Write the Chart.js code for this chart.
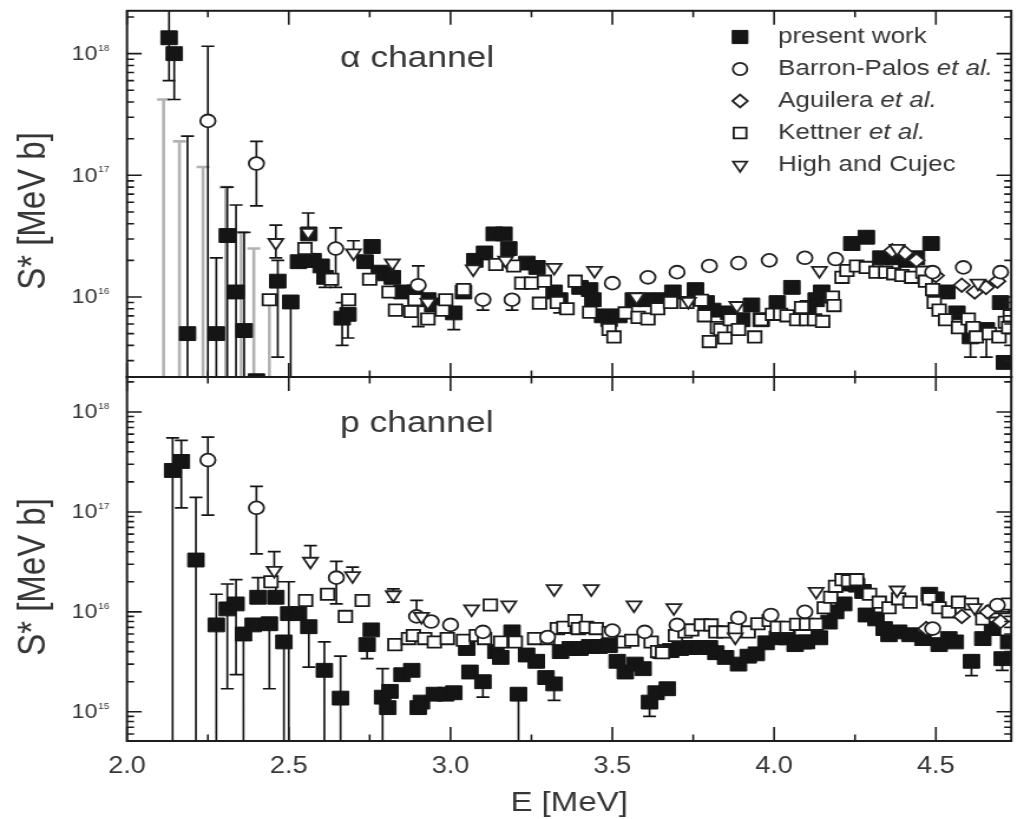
<!DOCTYPE html>
<html>
<head>
<meta charset="utf-8">
<title>S* factor – α and p channels</title>
<script src="https://cdn.jsdelivr.net/npm/chart.js@4.4.1/dist/chart.umd.min.js"></script>
<style>
  html, body { margin: 0; padding: 0; background: #fff; }
  #figure { position: relative; width: 1024px; height: 819px; overflow: hidden; background: #fff; }
  /* the figure is laid out on an 868px canvas and widened to the page width */
  #figure canvas { position: absolute; left: 0; top: 0; transform: scaleX(1.179724); transform-origin: 0 0; }
</style>
</head>
<body>
<div id="figure">
  <canvas id="alphaPanel" width="868" height="819"></canvas>
  <canvas id="protonPanel" width="868" height="819"></canvas>
</div>
<script>
// ---------------- axis ranges and tick labels ----------------
const eRange = [2.0, 4.733];
const xMajorTicks = [2.0, 2.5, 3.0, 3.5, 4.0, 4.5];
const xMinorTicks = [2.25, 2.75, 3.25, 3.75, 4.25];
const xTickLabels = ['2.0', '2.5', '3.0', '3.5', '4.0', '4.5'];
const alphaRange = [2.2e15, 2.25e18];
const protonRange = [5.1e14, 2.24e18];
const alphaDecades = [16, 17, 18];
const protonDecades = [15, 16, 17, 18];
const panelLabels = ['α channel', 'p channel'];
const seriesNames = ['present work', 'Barron-Palos', 'Aguilera', 'Kettner', 'High and Cujec'];

// rows: [E (MeV), S* (MeV b), lower error end, upper error end]
// ---------------- α channel ----------------
const alphaPresent = [
  [2.130, 1.35e18, 6.0e17, 2.6e18], [2.146, 1.00e18, 4.2e17, null], [2.187, 5.0e15, 1e14, 2.1e17],
  [2.276, 5.0e15, 1e14, 2.1e16], [2.310, 3.2e16, 1e14, 8.0e16], [2.337, 1.1e16, 1e14, 5.7e16],
  [2.362, 5.3e15, 1e14, 3.4e16], [2.400, 2.05e15], [2.466, 1.35e16, 3.2e15, 2.0e16],
  [2.506, 9.1e15, 1e14, null], [2.530, 1.95e16], [2.558, 2.0e16], [2.562, 3.3e16], [2.575, 2.0e16],
  [2.600, 1.8e16], [2.612, 1.45e16, 1.2e16, null], [2.665, 6.7e15, 4.0e15, 9.0e15],
  [2.683, 7.2e15, 4.6e15, null], [2.736, 1.95e16], [2.757, 2.6e16], [2.780, 1.6e16], [2.800, 1.55e16],
  [2.820, 1.45e16], [2.850, 1.1e16], [2.890, 1.1e16], [2.930, 9.5e15], [2.945, 8.6e15],
  [3.010, 7.4e15, 5.4e15, null], [3.040, 1.1e16], [3.075, 2.0e16], [3.105, 2.3e16], [3.135, 3.3e16],
  [3.165, 3.3e16], [3.180, 2.5e16], [3.236, 1.9e16], [3.267, 1.75e16], [3.320, 1.1e16],
  [3.337, 9.5e15, 7.4e15, null], [3.400, 1.2e16], [3.430, 1.15e16], [3.440, 9.5e15], [3.470, 7.0e15],
  [3.490, 6.5e15], [3.520, 7.0e15], [3.565, 9.5e15], [3.605, 9.5e15], [3.655, 9.5e15], [3.687, 1.1e16],
  [3.757, 1.15e16], [3.790, 9.0e15], [3.810, 7.8e15], [3.860, 7.4e15], [3.900, 6.5e15], [3.930, 8.6e15],
  [3.960, 6.5e15], [4.010, 9.0e15], [4.055, 1.2e16], [4.105, 8.2e15], [4.130, 9.5e15], [4.147, 1.1e16],
  [4.240, 2.75e16], [4.285, 3.1e16], [4.330, 2.1e16], [4.370, 2.1e16], [4.410, 2.0e16], [4.440, 2.1e16],
  [4.485, 2.75e16], [4.534, 1.1e16], [4.565, 7.4e15], [4.607, 4.7e15, 3.2e15, null],
  [4.656, 5.4e15, 3.2e15, null], [4.700, 9.0e15], [4.712, 2.9e15]
];
const alphaBarron = [
  [2.250, 2.8e17, 1e14, 1.15e18], [2.400, 1.25e17, 5.6e16, 1.9e17], [2.645, 2.5e16, 1.2e16, 3.7e16],
  [2.900, 1.25e16, 5.7e15, 1.8e16], [3.100, 9.5e15, 7.8e15, null], [3.190, 9.5e15, 7.8e15, null],
  [3.500, 1.3e16], [3.610, 1.45e16], [3.700, 1.6e16], [3.800, 1.8e16], [3.890, 1.9e16], [3.985, 2.0e16],
  [4.095, 2.1e16], [4.190, 2.05e16], [4.490, 1.6e16], [4.585, 1.75e16], [4.700, 1.6e16]
];
const alphaAguilera = [
  [4.365, 2.4e16], [4.405, 2.3e16], [4.440, 2.0e16], [4.500, 1.5e16], [4.580, 1.25e16],
  [4.620, 1.1e16], [4.655, 1.2e16], [4.690, 1.35e16]
];
const alphaKettner = [
  [2.440, 9.5e15], [2.550, 2.5e16], [2.632, 1.4e16], [2.685, 9.5e15], [2.750, 1.4e16], [2.810, 1.1e16],
  [2.830, 7.8e15], [2.878, 7.6e15], [2.890, 9.5e15], [2.930, 6.6e15], [2.975, 7.8e15], [2.985, 9.5e15],
  [3.040, 1.15e16], [3.140, 1.85e16], [3.195, 1.8e16], [3.220, 1.3e16], [3.250, 1.3e16], [3.275, 8.9e15],
  [3.290, 1.35e16], [3.330, 9.0e15], [3.360, 8.0e15], [3.385, 1.35e16], [3.430, 7.5e15], [3.490, 5.4e15],
  [3.505, 4.7e15], [3.540, 7.4e15], [3.580, 6.8e15], [3.610, 6.6e15], [3.640, 8.0e15], [3.680, 9.0e15],
  [3.730, 9.0e15], [3.775, 9.4e15], [3.785, 7.0e15], [3.800, 4.3e15], [3.825, 5.6e15], [3.835, 5.4e15],
  [3.848, 4.6e15], [3.865, 6.5e15], [3.890, 5.4e15], [3.940, 4.7e15], [3.960, 6.5e15], [3.995, 7.2e15],
  [4.020, 7.2e15], [4.040, 7.0e15], [4.070, 6.5e15], [4.085, 8.2e15], [4.100, 6.5e15], [4.125, 6.5e15],
  [4.150, 6.3e15], [4.180, 1.0e16], [4.185, 8.5e15], [4.210, 1.45e16], [4.225, 1.65e16], [4.255, 1.8e16],
  [4.285, 1.75e16], [4.315, 1.6e16], [4.345, 1.6e16], [4.370, 1.55e16], [4.395, 1.5e16], [4.425, 1.45e16],
  [4.460, 1.6e16], [4.468, 1.35e16], [4.490, 1.15e16], [4.495, 9.0e15], [4.510, 7.8e15], [4.530, 6.5e15],
  [4.570, 5.6e15], [4.600, 6.6e15], [4.615, 5.6e15], [4.625, 4.7e15], [4.665, 5.0e15], [4.695, 4.7e15],
  [4.715, 6.2e15], [4.725, 5.6e15], [4.730, 7.0e15]
];
const alphaHigh = [
  [2.460, 2.8e16, 2.1e16, 3.9e16], [2.560, 3.4e16, null, 4.9e16], [2.700, 2.3e16, null, 2.9e16],
  [2.820, 1.9e16], [2.930, 9.0e15], [3.070, 1.7e16], [3.170, 2.0e16], [3.320, 1.75e16], [3.445, 1.65e16],
  [3.575, 1.0e16], [3.735, 9.2e15], [3.885, 8.5e15], [4.140, 1.65e16], [4.380, 2.5e16], [4.630, 1.3e16]
];
// grey error bars running down out of the α panel
const alphaGrayE = [2.113, 2.162, 2.235, 2.305, 2.353, 2.392, 2.440];
const alphaGrayTop = [4.2e17, 1.9e17, 1.17e17, 8.0e16, 3.4e16, 2.5e16, 9.5e15];

// ---------------- p channel ----------------
const protonPresent = [
  [2.141, 2.6e17, 1e14, 5.5e17], [2.168, 3.2e17, 1.1e17, 5.2e17], [2.213, 3.3e16, 1e14, 1.4e17],
  [2.276, 7.4e15, 1e14, 1.5e16], [2.310, 1.07e16, 1.7e15, 1.9e16], [2.337, 1.2e16, 2.35e15, 2.1e16],
  [2.360, 6.0e15, 1e14, null], [2.390, 7.4e15], [2.405, 1.4e16, null, 2.2e16], [2.440, 7.6e15, 1.7e15, null],
  [2.460, 1.4e16, null, 2.0e16], [2.485, 5.0e15, 1e14, null], [2.500, 9.6e15, 1e14, 2.0e16], [2.530, 9.6e15],
  [2.562, 7.1e15, 2.8e15, null], [2.610, 2.6e15, 1e14, 5.0e15], [2.660, 1.37e15, 1e14, 3.6e15],
  [2.742, 4.7e15, 3.4e15, null], [2.755, 6.6e15], [2.790, 1.4e15, 1e14, 2.7e15], [2.806, 1.1e15],
  [2.813, 1.6e15], [2.850, 2.35e15], [2.880, 2.6e15], [2.900, 1.1e15], [2.910, 1.25e15], [2.950, 1.5e15],
  [2.985, 1.5e15], [3.010, 1.55e15], [3.050, 4.3e15], [3.060, 2.5e15], [3.100, 2.0e15, 1.4e15, null],
  [3.140, 4.0e15], [3.155, 3.5e15], [3.190, 6.3e15], [3.210, 1.5e15, 1e14, null], [3.235, 3.7e15],
  [3.265, 3.2e15], [3.295, 2.2e15], [3.320, 1.9e15, 1.3e15, null], [3.340, 4.0e15], [3.370, 4.3e15],
  [3.400, 4.3e15], [3.430, 4.5e15], [3.460, 4.5e15], [3.490, 4.6e15], [3.515, 3.2e15], [3.540, 2.5e15],
  [3.570, 3.0e15], [3.595, 2.7e15], [3.615, 1.25e15, 9.0e14, null], [3.635, 1.55e15], [3.650, 4.0e15],
  [3.670, 1.7e15], [3.680, 4.1e15], [3.710, 4.3e15], [3.740, 4.4e15], [3.770, 4.4e15], [3.800, 4.4e15],
  [3.820, 3.9e15], [3.850, 3.5e15], [3.890, 3.0e15], [3.920, 3.6e15], [3.945, 3.8e15], [3.975, 4.9e15],
  [4.010, 5.5e15], [4.040, 5.5e15], [4.065, 4.7e15], [4.090, 5.0e15], [4.100, 5.0e15], [4.140, 5.5e15],
  [4.170, 7.9e15], [4.190, 1.0e16], [4.215, 1.2e16], [4.230, 1.9e16], [4.255, 1.85e16], [4.275, 1.6e16],
  [4.285, 9.3e15], [4.315, 8.5e15], [4.340, 6.8e15], [4.355, 5.9e15], [4.385, 6.3e15], [4.420, 5.9e15],
  [4.460, 5.4e15], [4.480, 1.5e16], [4.500, 1.35e16], [4.510, 4.7e15], [4.540, 5.4e15], [4.560, 5.0e15],
  [4.610, 3.2e15, 2.3e15, null], [4.645, 5.4e15], [4.675, 6.8e15], [4.705, 3.4e15, 2.6e15, null],
  [4.725, 5.0e15]
];
const protonBarron = [
  [2.250, 3.3e17, 9.3e16, 5.6e17], [2.400, 1.1e17, 3.8e16, 1.8e17], [2.647, 2.2e16, 1.2e16, 3.2e16],
  [2.895, 9.0e15, null, 1.3e16], [2.940, 8.0e15], [3.000, 7.4e15], [3.100, 6.3e15], [3.300, 5.6e15],
  [3.500, 6.5e15], [3.600, 6.3e15], [3.700, 7.4e15], [3.890, 8.7e15], [3.990, 9.3e15], [4.095, 1.0e16],
  [4.490, 6.8e15], [4.690, 1.17e16]
];
const protonAguilera = [[4.470, 6.8e15], [4.580, 9.0e15], [4.660, 1.0e16], [4.700, 8.0e15]];
const protonKettner = [
  [2.445, 2.0e16], [2.552, 1.3e16], [2.620, 1.5e16], [2.675, 9.0e15], [2.727, 1.3e16], [2.828, 4.7e15],
  [2.870, 5.4e15], [2.885, 5.8e15], [2.920, 5.4e15], [2.950, 5.0e15], [2.990, 5.4e15], [3.040, 5.2e15],
  [3.080, 5.8e15], [3.105, 5.4e15], [3.123, 1.17e16], [3.155, 5.0e15], [3.200, 5.0e15], [3.260, 5.4e15],
  [3.300, 5.4e15], [3.330, 6.8e15], [3.350, 7.0e15], [3.385, 8.2e15], [3.395, 6.8e15], [3.420, 7.0e15],
  [3.450, 6.8e15], [3.490, 6.2e15], [3.535, 5.0e15], [3.560, 5.2e15], [3.620, 5.0e15], [3.640, 4.0e15],
  [3.655, 3.9e15], [3.695, 5.8e15], [3.725, 6.3e15], [3.745, 6.6e15], [3.775, 7.4e15], [3.805, 7.4e15],
  [3.820, 6.3e15], [3.845, 6.3e15], [3.880, 6.8e15], [3.920, 6.3e15], [3.950, 7.6e15], [3.985, 8.2e15],
  [4.010, 7.0e15], [4.040, 7.0e15], [4.070, 7.5e15], [4.100, 7.5e15], [4.130, 7.5e15], [4.155, 1.1e16],
  [4.175, 1.4e16], [4.190, 1.8e16], [4.210, 2.1e16], [4.230, 2.05e16], [4.255, 2.1e16], [4.295, 1.5e16],
  [4.325, 1.25e16], [4.355, 1.1e16], [4.385, 1.35e16], [4.420, 1.25e16], [4.480, 1.35e16], [4.510, 1.1e16],
  [4.540, 1.0e16], [4.570, 1.25e16], [4.610, 1.2e16], [4.645, 8.5e15], [4.675, 1.0e16], [4.705, 1.1e16],
  [4.725, 1.2e16]
];
const protonHigh = [
  [2.455, 2.6e16, null, 4.0e16], [2.567, 3.2e16, null, 4.6e16], [2.697, 2.3e16, null, 2.8e16],
  [2.823, 1.48e16, 1.25e16, 1.7e16], [2.910, 9.0e15], [3.065, 1.07e16], [3.180, 1.17e16], [3.320, 1.7e16],
  [3.435, 1.7e16], [3.567, 1.17e16], [3.690, 1.1e16], [3.880, 5.6e15], [4.130, 1.6e16], [4.380, 1.65e16],
  [4.620, 1.1e16]
];

// ---------------- drawing setup ----------------
const FONT = '"Liberation Sans", Arial, Helvetica, sans-serif';
const INK = '#151515';
const TEXT = '#363636';
const PLOT_LEFT = 107.65;   // width reserved for the y axis
const RIGHT_PAD = 5.1;
const CAP = 5.5;            // half width of an error-bar cap

const markerStyles = {
  present:  { pointStyle: 'rect',     pointRadius: 9.8, pointBackgroundColor: INK,    pointBorderColor: INK,    pointBorderWidth: 1,   order: 5 },
  barron:   { pointStyle: 'circle',   pointRadius: 6.4, pointBackgroundColor: '#fff', pointBorderColor: '#222', pointBorderWidth: 1.8, order: 2 },
  aguilera: { pointStyle: 'rectRot',  pointRadius: 6.8, pointBackgroundColor: '#fff', pointBorderColor: '#222', pointBorderWidth: 1.8, order: 3 },
  kettner:  { pointStyle: 'rect',     pointRadius: 8.0, pointBackgroundColor: '#fff', pointBorderColor: '#1a1a1a', pointBorderWidth: 1.8, order: 4 },
  high:     { pointStyle: 'triangle', pointRadius: 7.2, pointRotation: 180, pointBackgroundColor: '#fff', pointBorderColor: '#222', pointBorderWidth: 1.8, order: 1 }
};
const legendEntries = [
  { key: 'present',  text: seriesNames[0] },
  { key: 'barron',   text: seriesNames[1] + ' ', italic: 'et al.' },
  { key: 'aguilera', text: seriesNames[2] + ' ', italic: 'et al.' },
  { key: 'kettner',  text: seriesNames[3] + ' ', italic: 'et al.' },
  { key: 'high',     text: seriesNames[4] }
];

function series(rows, key, label) {
  return Object.assign({
    label: label,
    data: rows.map(r => ({ x: r[0], y: r[1] })),
    errors: rows.map(r => [r[2] ?? null, r[3] ?? null]),
    errorColor: INK,
    errorWidth: 1.7,
    clip: 0
  }, markerStyles[key]);
}
function grayBars(eList, topList) {
  return {
    label: 'grey bars',
    data: eList.map((e, i) => ({ x: e, y: topList[i] })),
    errors: topList.map(t => [1e14, t]),
    errorColor: '#b2b2b2',
    errorWidth: 2.6,
    pointRadius: 0,
    clip: 0,
    order: 9
  };
}
function logTicks(min, max) {
  const out = [];
  for (let d = Math.floor(Math.log10(min)); d <= Math.ceil(Math.log10(max)); d++) {
    for (let m = 1; m <= 9; m++) {
      const v = m * Math.pow(10, d);
      if (v >= min && v <= max) out.push(v);
    }
  }
  return out;
}
function isDecade(v) {
  const l = Math.log10(v);
  return Math.abs(l - Math.round(l)) < 1e-6;
}

function drawErrorBars(chart) {
  const { ctx, chartArea: a, scales } = chart;
  const xs = scales.x, ys = scales.y;
  ctx.save();
  ctx.beginPath();
  ctx.rect(a.left, a.top, a.right - a.left, a.bottom - a.top);
  ctx.clip();
  chart.data.datasets.forEach(ds => {
    if (!ds.errors) return;
    ctx.strokeStyle = ds.errorColor;
    ctx.lineWidth = ds.errorWidth;
    ctx.beginPath();
    ds.data.forEach((pt, i) => {
      const [lo, hi] = ds.errors[i];
      if (lo == null && hi == null) return;
      const px = xs.getPixelForValue(pt.x);
      const py = ys.getPixelForValue(pt.y);
      const yLo = lo == null ? py : ys.getPixelForValue(lo);
      const yHi = hi == null ? py : ys.getPixelForValue(hi);
      ctx.moveTo(px, yLo); ctx.lineTo(px, yHi);
      if (lo != null) { ctx.moveTo(px - CAP, yLo); ctx.lineTo(px + CAP, yLo); }
      if (hi != null) { ctx.moveTo(px - CAP, yHi); ctx.lineTo(px + CAP, yHi); }
    });
    ctx.stroke();
  });
  ctx.restore();
}

function drawFrame(chart) {
  const { ctx, chartArea: a, scales } = chart;
  const xs = scales.x, ys = scales.y;
  ctx.save();
  ctx.strokeStyle = '#1c1c1c';
  ctx.lineWidth = 1.6;
  ctx.beginPath();
  const xTick = (v, len) => {
    const px = xs.getPixelForValue(v);
    ctx.moveTo(px, a.top); ctx.lineTo(px, a.top + len);
    ctx.moveTo(px, a.bottom); ctx.lineTo(px, a.bottom - len);
  };
  xMajorTicks.forEach(v => xTick(v, 14));
  xMinorTicks.forEach(v => xTick(v, 6.5));
  ys.ticks.forEach(t => {
    const len = isDecade(t.value) ? 12.5 : 6;
    const py = ys.getPixelForValue(t.value);
    ctx.moveTo(a.left, py); ctx.lineTo(a.left + len, py);
    ctx.moveTo(a.right, py); ctx.lineTo(a.right - len, py);
  });
  ctx.stroke();
  ctx.lineWidth = 2;
  ctx.strokeRect(a.left, a.top, a.right - a.left, a.bottom - a.top);
  ctx.restore();
}

function drawDecadeLabels(chart, decades) {
  const { ctx, scales } = chart;
  ctx.save();
  ctx.fillStyle = TEXT;
  decades.forEach(d => {
    const py = scales.y.getPixelForValue(Math.pow(10, d));
    ctx.font = `19.5px ${FONT}`;
    ctx.textAlign = 'right';
    ctx.textBaseline = 'middle';
    ctx.fillText('10', 82.5, py + 1);
    ctx.font = `8.5px ${FONT}`;
    ctx.textAlign = 'left';
    ctx.textBaseline = 'alphabetic';
    ctx.fillText(String(d), 83.3, py - 3);
  });
  ctx.restore();
}

function drawYTitle(chart, centerY) {
  const ctx = chart.ctx;
  ctx.save();
  ctx.translate(28.8, centerY);
  ctx.rotate(-Math.PI / 2);
  ctx.fillStyle = TEXT;
  ctx.font = `33px ${FONT}`;
  ctx.textAlign = 'center';
  ctx.textBaseline = 'middle';
  ctx.fillText('S* [MeV b]', 0, 0);
  ctx.restore();
}

function drawPanelLabel(chart, text, baseline) {
  const ctx = chart.ctx;
  ctx.save();
  ctx.fillStyle = TEXT;
  ctx.font = `30px ${FONT}`;
  ctx.textAlign = 'left';
  ctx.textBaseline = 'alphabetic';
  ctx.fillText(text, 288.2, baseline);
  ctx.restore();
}

function drawLegend(chart) {
  const ctx = chart.ctx;
  ctx.save();
  legendEntries.forEach((entry, i) => {
    const y = 37 + i * 32;
    const st = markerStyles[entry.key];
    ctx.fillStyle = st.pointBackgroundColor;
    ctx.strokeStyle = st.pointBorderColor;
    ctx.lineWidth = st.pointBorderWidth;
    Chart.helpers.drawPoint(ctx, {
      pointStyle: st.pointStyle, radius: st.pointRadius * 0.95,
      rotation: st.pointRotation || 0, borderWidth: st.pointBorderWidth
    }, 627.3, y);
    ctx.fillStyle = TEXT;
    ctx.textAlign = 'left';
    ctx.textBaseline = 'middle';
    ctx.font = `22px ${FONT}`;
    ctx.fillText(entry.text, 659.5, y);
    if (entry.italic) {
      const w = ctx.measureText(entry.text).width;
      ctx.font = `italic 22px ${FONT}`;
      ctx.fillText(entry.italic, 659.5 + w, y);
    }
  });
  ctx.restore();
}

function decorPlugin(cfg) {
  return {
    id: 'panelDecor',
    beforeDatasetsDraw(chart) { drawErrorBars(chart); },
    afterDraw(chart) {
      drawFrame(chart);
      drawDecadeLabels(chart, cfg.decades);
      drawYTitle(chart, cfg.titleY);
      drawPanelLabel(chart, cfg.label, cfg.labelY);
      if (cfg.legend) drawLegend(chart);
    }
  };
}

function makePanel(canvasId, cfg) {
  return new Chart(document.getElementById(canvasId), {
    type: 'scatter',
    data: { datasets: cfg.datasets },
    options: {
      responsive: false,
      animation: false,
      events: [],
      layout: { padding: { top: cfg.padTop, bottom: cfg.padBottom, left: 0, right: RIGHT_PAD } },
      plugins: { legend: { display: false }, tooltip: { enabled: false }, title: { display: false } },
      scales: {
        x: {
          type: 'linear', min: eRange[0], max: eRange[1], display: cfg.showX,
          afterBuildTicks: s => { s.ticks = xMajorTicks.map(v => ({ value: v })); },
          afterFit: s => { s.height = cfg.showX ? 78 : 0; },
          grid: { display: false, drawTicks: false },
          border: { display: false },
          ticks: {
            autoSkip: false, maxRotation: 0, minRotation: 0, padding: 12, color: TEXT,
            font: { family: FONT, size: 23 },
            callback: (v, i) => xTickLabels[i]
          },
          title: {
            display: true, text: 'E [MeV]', color: TEXT,
            font: { family: FONT, size: 28, lineHeight: 1 }, padding: { top: 0, bottom: 2 }
          }
        },
        y: {
          type: 'logarithmic', min: cfg.range[0], max: cfg.range[1],
          afterBuildTicks: s => { s.ticks = logTicks(cfg.range[0], cfg.range[1]).map(v => ({ value: v })); },
          afterFit: s => { s.width = PLOT_LEFT; },
          grid: { display: false, drawTicks: false },
          border: { display: false },
          ticks: { display: false }
        }
      }
    },
    plugins: [decorPlugin(cfg)]
  });
}

makePanel('alphaPanel', {
  range: alphaRange, decades: alphaDecades, padTop: 10, padBottom: 442, showX: false,
  titleY: 211, label: panelLabels[0], labelY: 67, legend: true,
  datasets: [
    grayBars(alphaGrayE, alphaGrayTop),
    series(alphaHigh, 'high', seriesNames[4]),
    series(alphaBarron, 'barron', seriesNames[1]),
    series(alphaAguilera, 'aguilera', seriesNames[2]),
    series(alphaKettner, 'kettner', seriesNames[3]),
    series(alphaPresent, 'present', seriesNames[0])
  ]
});

makePanel('protonPanel', {
  range: protonRange, decades: protonDecades, padTop: 377, padBottom: 0, showX: true,
  titleY: 577, label: panelLabels[1], labelY: 432, legend: false,
  datasets: [
    series(protonHigh, 'high', seriesNames[4]),
    series(protonBarron, 'barron', seriesNames[1]),
    series(protonAguilera, 'aguilera', seriesNames[2]),
    series(protonKettner, 'kettner', seriesNames[3]),
    series(protonPresent, 'present', seriesNames[0])
  ]
});
</script>
</body>
</html>
